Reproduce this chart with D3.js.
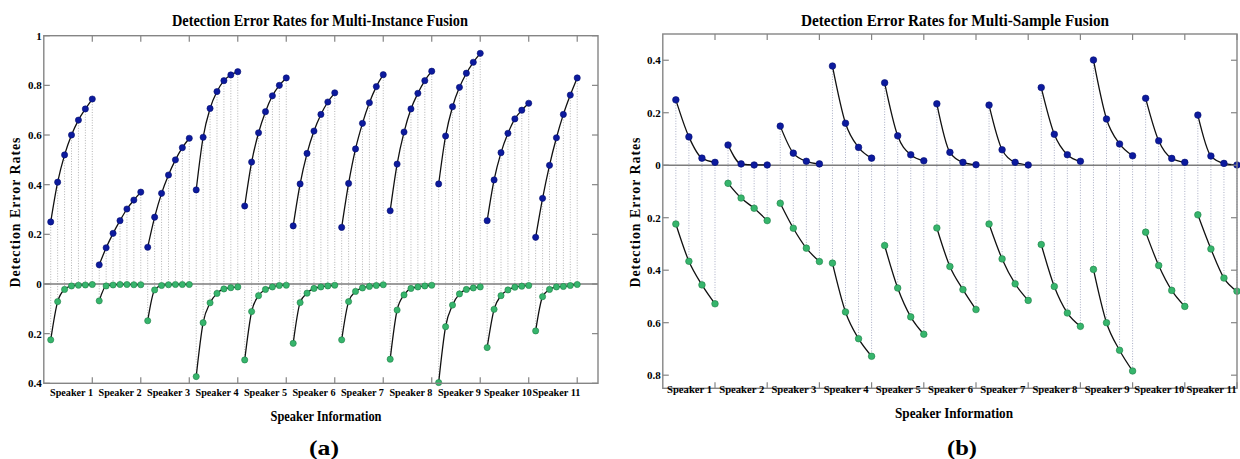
<!DOCTYPE html>
<html>
<head>
<meta charset="utf-8">
<script src="https://cdn.jsdelivr.net/npm/d3@7"></script>
<style>
  body { margin: 0; background: #fff; }
  svg text { font-family: "Liberation Serif", "Times New Roman", serif; font-weight: bold; fill: #000; }
</style>
</head>
<body>
<svg id="chart" width="1240" height="459"></svg>
<script>
// ---- data ----
var speakers = ["Speaker 1","Speaker 2","Speaker 3","Speaker 4","Speaker 5","Speaker 6",
                "Speaker 7","Speaker 8","Speaker 9","Speaker 10","Speaker 11"];

// (a) multi-instance fusion, 7 instances per speaker
var instBlue = [
  [0.25, 0.41, 0.52, 0.60, 0.66, 0.705, 0.745],
  [0.077, 0.146, 0.204, 0.255, 0.302, 0.338, 0.37],
  [0.148, 0.269, 0.365, 0.439, 0.50, 0.549, 0.587],
  [0.379, 0.591, 0.707, 0.775, 0.819, 0.842, 0.855],
  [0.314, 0.491, 0.609, 0.694, 0.758, 0.80, 0.83],
  [0.234, 0.403, 0.526, 0.616, 0.683, 0.733, 0.77],
  [0.228, 0.405, 0.544, 0.647, 0.73, 0.795, 0.843],
  [0.295, 0.483, 0.612, 0.705, 0.768, 0.819, 0.857],
  [0.403, 0.596, 0.714, 0.792, 0.849, 0.893, 0.929],
  [0.255, 0.419, 0.529, 0.607, 0.665, 0.70, 0.728],
  [0.188, 0.345, 0.478, 0.589, 0.683, 0.761, 0.83]
];
var instGreen = [
  [0.225, 0.071, 0.022, 0.008, 0.005, 0.004, 0.002],
  [0.068, 0.008, 0.004, 0.002, 0.002, 0.003, 0.003],
  [0.148, 0.024, 0.006, 0.003, 0.002, 0.002, 0.002],
  [0.373, 0.156, 0.076, 0.038, 0.02, 0.015, 0.012],
  [0.306, 0.111, 0.047, 0.022, 0.012, 0.006, 0.005],
  [0.239, 0.075, 0.037, 0.018, 0.012, 0.008, 0.005],
  [0.225, 0.071, 0.03, 0.016, 0.01, 0.006, 0.003],
  [0.303, 0.105, 0.044, 0.018, 0.012, 0.008, 0.005],
  [0.397, 0.172, 0.085, 0.04, 0.022, 0.016, 0.012],
  [0.256, 0.102, 0.047, 0.024, 0.013, 0.009, 0.006],
  [0.189, 0.051, 0.022, 0.012, 0.01, 0.006, 0.002]
];
var instYTicks = [1, 0.8, 0.6, 0.4, 0.2, 0, -0.2, -0.4];

// (b) multi-sample fusion, 4 samples per speaker
var sampBlue = [
  [0.249, 0.108, 0.027, 0.011],
  [0.077, 0.005, 0.001, 0.001],
  [0.149, 0.046, 0.015, 0.005],
  [0.378, 0.16, 0.068, 0.027],
  [0.314, 0.112, 0.04, 0.017],
  [0.234, 0.049, 0.011, 0.002],
  [0.229, 0.059, 0.011, 0.001],
  [0.296, 0.118, 0.04, 0.015],
  [0.401, 0.176, 0.081, 0.036],
  [0.255, 0.093, 0.026, 0.011],
  [0.191, 0.035, 0.007, 0.001]
];
var sampGreen = [
  [0.224, 0.366, 0.456, 0.528],
  [0.069, 0.125, 0.164, 0.211],
  [0.145, 0.24, 0.316, 0.367],
  [0.373, 0.559, 0.661, 0.728],
  [0.306, 0.468, 0.578, 0.644],
  [0.239, 0.386, 0.474, 0.55],
  [0.224, 0.357, 0.452, 0.515],
  [0.302, 0.462, 0.563, 0.614],
  [0.397, 0.6, 0.705, 0.784],
  [0.255, 0.382, 0.477, 0.538],
  [0.189, 0.319, 0.43, 0.48]
];
var sampYTicks = [0.4, 0.2, 0, -0.2, -0.4, -0.6, -0.8];

var svg = d3.select("#chart");
svg.append("rect").attr("width", 1240).attr("height", 459).attr("fill", "#fff");

function drawPanel(p){
	var n = p.blue[0].length;
	var x = d3.scaleLinear().domain([0, p.xMax]).range([p.left, p.right]);
	var y = d3.scaleLinear().domain(p.yDomain).range([p.bottom, p.top]);
	var g = svg.append("g");

	// flatten into points
	var pts = [];
	p.blue.forEach(function(arr, i){
		arr.forEach(function(v, j){
			pts.push({ x: i*n + j + 1, b: v, g: -p.green[i][j] });
		});
	});

	// dotted stems between the two series
	g.selectAll(".stem").data(pts).enter().append("line")
		.attr("x1", function(d){ return x(d.x); })
		.attr("x2", function(d){ return x(d.x); })
		.attr("y1", function(d){ return y(d.b); })
		.attr("y2", function(d){ return y(d.g); })
		.attr("stroke", p.stemColor).attr("stroke-width", 1)
		.attr("stroke-dasharray", "1,1.6");

	// zero line
	g.append("line").attr("x1", p.left).attr("x2", p.right)
		.attr("y1", y(0)).attr("y2", y(0))
		.attr("stroke", "#7d7d7d").attr("stroke-width", 1.6);

	var line = d3.line()
		.x(function(d){ return x(d[0]); })
		.y(function(d){ return y(d[1]); })
		.curve(d3.curveMonotoneX);

	for(var i = 0; i < p.blue.length; i++){
		var bl = p.blue[i].map(function(v, j){ return [i*n + j + 1, v]; });
		var gr = p.green[i].map(function(v, j){ return [i*n + j + 1, -v]; });
		g.append("path").attr("d", line(bl)).attr("fill", "none").attr("stroke", "#111").attr("stroke-width", 1.3);
		g.append("path").attr("d", line(gr)).attr("fill", "none").attr("stroke", "#111").attr("stroke-width", 1.3);
	}

	g.selectAll(".bdot").data(pts).enter().append("circle")
		.attr("cx", function(d){ return x(d.x); })
		.attr("cy", function(d){ return y(d.b); })
		.attr("r", p.r).attr("fill", "#0c1a9e").attr("stroke", "#071070").attr("stroke-width", 0.6);
	g.selectAll(".gdot").data(pts).enter().append("circle")
		.attr("cx", function(d){ return x(d.x); })
		.attr("cy", function(d){ return y(d.g); })
		.attr("r", p.r).attr("fill", "#36b56c").attr("stroke", "#1f7f46").attr("stroke-width", 0.6);

	// box
	g.append("rect").attr("x", p.left).attr("y", p.top)
		.attr("width", p.right - p.left).attr("height", p.bottom - p.top)
		.attr("fill", "none").attr("stroke", "#858585").attr("stroke-width", 1.4);

	// inward ticks
	var xt = d3.range(1, p.blue.length + 1).map(function(k){ return k*n; });
	var tl = 6;
	xt.forEach(function(t){
		g.append("line").attr("x1", x(t)).attr("x2", x(t)).attr("y1", p.bottom).attr("y2", p.bottom - tl)
			.attr("stroke", "#858585").attr("stroke-width", 1.2);
		g.append("line").attr("x1", x(t)).attr("x2", x(t)).attr("y1", p.top).attr("y2", p.top + tl)
			.attr("stroke", "#858585").attr("stroke-width", 1.2);
	});
	p.yTicks.forEach(function(t){
		g.append("line").attr("x1", p.left).attr("x2", p.left + tl).attr("y1", y(t)).attr("y2", y(t))
			.attr("stroke", "#858585").attr("stroke-width", 1.2);
		g.append("line").attr("x1", p.right).attr("x2", p.right - tl).attr("y1", y(t)).attr("y2", y(t))
			.attr("stroke", "#858585").attr("stroke-width", 1.2);
		g.append("text").attr("x", p.left - 2).attr("y", y(t) + 4)
			.attr("text-anchor", "end").attr("font-size", 11)
			.text(d3.format("~g")(Math.abs(t)));
	});

	// speaker labels
	g.selectAll(".spk").data(speakers).enter().append("text")
		.attr("x", function(d, i){ return x(i*n + p.labelOff); })
		.attr("y", p.labelY)
		.attr("text-anchor", "middle").attr("font-size", 10.5)
		.attr("textLength", function(d){ return p.labelW + (d.length > 9 ? 5 : 0); })
		.attr("lengthAdjust", "spacingAndGlyphs")
		.text(function(d){ return d; });

	g.append("text").attr("x", p.titleX).attr("y", 26).attr("text-anchor", "middle")
		.attr("font-size", 16).attr("textLength", p.titleW).attr("lengthAdjust", "spacingAndGlyphs")
		.text(p.title);
	g.append("text").attr("x", p.xLabelX).attr("y", p.xLabelY).attr("text-anchor", "middle")
		.attr("font-size", 15).attr("textLength", p.xLabelW).attr("lengthAdjust", "spacingAndGlyphs")
		.text("Speaker Information");
	g.append("text").attr("transform", "translate(" + p.yLabelX + ",212) rotate(-90)")
		.attr("text-anchor", "middle").attr("font-size", 14)
		.attr("textLength", 151).attr("lengthAdjust", "spacingAndGlyphs")
		.attr("letter-spacing", 1)
		.text("Detection Error Rates");
	g.append("text").attr("x", p.capX).attr("y", 455).attr("text-anchor", "middle")
		.attr("font-size", 22).attr("textLength", 30).attr("lengthAdjust", "spacingAndGlyphs")
		.text(p.caption);
}

drawPanel({
	blue: instBlue, green: instGreen, yTicks: instYTicks,
	xMax: 80, yDomain: [-0.4, 1],
	left: 43.8, right: 598, top: 35.7, bottom: 383.3,
	r: 3.1, stemColor: "#b4b4b4", labelOff: 4, labelY: 396, labelW: 43,
	title: "Detection Error Rates for Multi-Instance Fusion", titleX: 320, titleW: 296,
	xLabelX: 326, xLabelY: 421, xLabelW: 111, yLabelX: 20,
	capX: 324, caption: "(a)"
});

drawPanel({
	blue: sampBlue, green: sampGreen, yTicks: sampYTicks,
	xMax: 44, yDomain: [-0.85, 0.5],
	left: 662.8, right: 1237, top: 34, bottom: 388.3,
	r: 3.3, stemColor: "#a9adc4", labelOff: 2.05, labelY: 393, labelW: 45,
	title: "Detection Error Rates for Multi-Sample Fusion", titleX: 955, titleW: 308,
	xLabelX: 954, xLabelY: 418, xLabelW: 118, yLabelX: 640,
	capX: 962, caption: "(b)"
});
</script>
</body>
</html>
